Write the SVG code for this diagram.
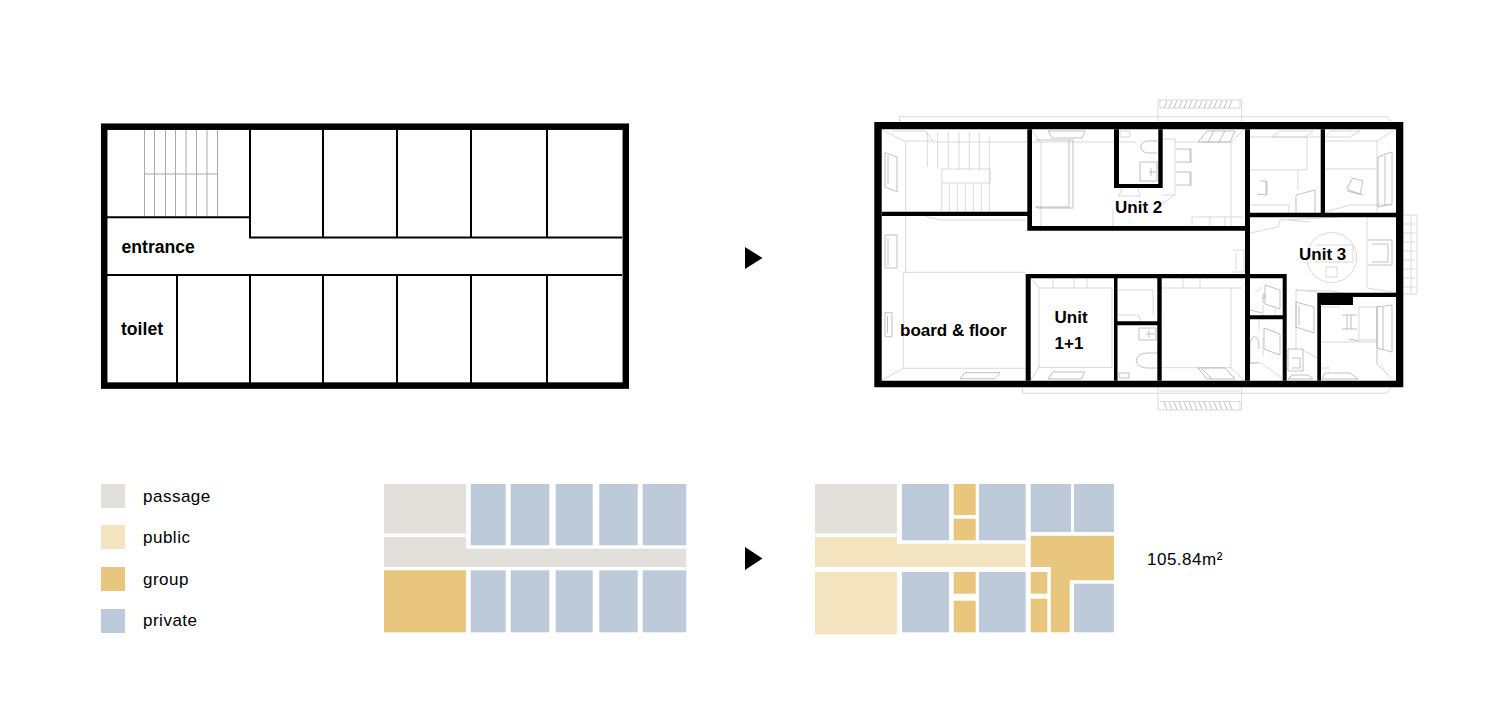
<svg xmlns="http://www.w3.org/2000/svg" width="1500" height="706" viewBox="0 0 1500 706">
<style>
text{font-family:"Liberation Sans",Arial,sans-serif;fill:#000}
.b{font-weight:700;font-size:17px}
.b2{font-weight:700;font-size:17.600px}
.l{font-size:17px;letter-spacing:.5px}
.wall{fill:#000}
.thin{fill:none;stroke:#000;stroke-width:2}
.stair{fill:none;stroke:#aaa;stroke-width:1}
.d{fill:none;stroke:#cfcfcf;stroke-width:.8}
.d2{fill:none;stroke:#a6a6a6;stroke-width:.7}
.pa{fill:#e3e0db}.pu{fill:#f4e4bf}.gr{fill:#e8c67d}.pr{fill:#bdcad9}
</style>
<rect width="1500" height="706" fill="#fff"/>

<g id="plan-before">
<path class="stair" d="M144.500 130V217M154.500 130V217M165.500 130V217M175.500 130V217M186 130V217M196.500 130V217M207 130V217M217.500 130V217M144.500 174H217.500"/>
<path class="thin" d="M107 217.300H250M250 130V237.500H622M107 275H622M323 130V237.500M397 130V237.500M471 130V237.500M547 130V237.500M177 275V383M250 275V383M323 275V383M397 275V383M471 275V383M547 275V383"/>
<rect x="104.200" y="126.700" width="521.600" height="258.900" fill="none" stroke="#000" stroke-width="6.500"/>
<text class="b2" x="121.500" y="252.500">entrance</text>
<text class="b2" x="121" y="335">toilet</text>
</g>

<polygon id="arrow-top" points="745,247 762.500,258 745,269"/>

<g id="plan-after">
<g id="details">
<path class="d" d="M899.500 122V116.700H1385Q1390 116.700 1391 122M1022.700 387V393.300H1383Q1389 393.300 1391 387"/>
<!-- balconies -->
<path class="d" d="M1158 122V100H1241.700V122M1160 100V108H1240V100M1158 387V410H1241.700V387M1160 401.500H1240V410M1160 391H1240"/>
<path class="d2" d="M1167 100.500L1164 108M1172 100.500L1169 108M1177 100.500L1174 108M1182 100.500L1179 108M1187 100.500L1184 108M1192 100.500L1189 108M1197 100.500L1194 108M1202 100.500L1199 108M1207 100.500L1204 108M1212 100.500L1209 108M1217 100.500L1214 108M1222 100.500L1219 108M1227 100.500L1224 108M1232 100.500L1229 108M1164 402L1167 409.500M1169 402L1172 409.500M1174 402L1177 409.500M1179 402L1182 409.500M1184 402L1187 409.500M1189 402L1192 409.500M1194 402L1197 409.500M1199 402L1202 409.500M1204 402L1207 409.500M1209 402L1212 409.500M1214 402L1217 409.500M1219 402L1222 409.500M1224 402L1227 409.500M1229 402L1232 409.500"/>
<path class="d" d="M1403 215H1417V294H1403M1411 215V294M1403 224H1415M1403 233H1415M1403 242H1415M1403 251H1415M1403 260H1415M1403 269H1415M1403 278H1415M1403 287H1415"/>
<!-- stair room -->
<path class="d" d="M881 129L905.700 142V212M892 131H925L933 141H905M933 142H1027M927.300 131.700V167M937.700 131.700V168.500M948.300 131.700V169M959 131.700V169.500M969.300 131.700V170M979.300 131.700V170M989.300 137V212M941.700 169H990V183H941.700ZM941.700 183.300V212M949.300 183.300V212M957.300 183.300V212M965.300 183.300V212M973.300 183.300V212M981.300 183.300V212"/>
<path class="d2" d="M885 152.700L897 157V191.700L885 187ZM888 156V184"/>
<!-- board and floor -->
<path class="d" d="M905.700 216V272.300M904 272.300H1026M903.300 272.300V368.300H1026M881 381L903.300 368.300M925 216L940 220H1026"/>
<path class="d2" d="M885 235H897V268H885ZM888 238V266M885 312.700H892V336.700H885ZM887.500 316V333M965 372.700H1000L995 378.700H960Z"/>
<!-- unit 2 -->
<path class="d" d="M1032 130L1041 143V226M1032 142H1114M1113 210V226M1119 142H1136M1175 142H1231M1231 142V226M1231 142L1245 129M1120 131H1130V137H1120ZM1162 139H1175V195H1162M1192 226V217H1243M1210 217V226M1225 217V226M1118 196H1140L1138 188M1162 204L1175 195M1122 188L1119 196"/>
<path class="d2" d="M1048 131H1085L1082 138H1052ZM1036 140H1069V207H1036M1069 140H1073V208H1037L1036 206M1198 142L1207 131H1235L1230 142ZM1214 131L1208 142M1225 131L1219 142M1176 149H1190V162H1176M1190 149H1191V163M1176 172H1190V185H1176M1190 172H1191V186"/>
<path class="d2" d="M1157 141H1147A10 6.500 0 0 0 1147 153H1157M1140 162H1157V181H1140ZM1149 172H1156M1151 168V176"/>
<!-- rooms top right -->
<path class="d" d="M1250 137H1320M1250 170H1307V137M1298 170V190M1250 205H1289V213M1325 141H1377V212M1377 141L1396 129M1325 169H1377M1325 212L1350 205H1392M1272 137L1280 131H1313L1306 137ZM1325 137L1330 131H1360L1350 137H1325"/>
<path class="d2" d="M1257 194L1266 195V181H1260M1267 181V195M1296 195L1315 190V213M1296 195V213M1347 188L1353 178L1363 181L1360 194L1349 190ZM1347 191L1363 195M1378 157L1392 152V204L1378 207ZM1385 156V205"/>
<!-- unit 3 -->
<circle class="d" cx="1331.700" cy="257.500" r="25"/>
<path class="d" d="M1326 267H1337V277H1326ZM1250 233L1278 227L1280 220L1340 217M1367 217V288L1396 292.700M1288 220L1310 222M1315 245H1353V262H1315M1296 290L1332 291L1353 295"/>
<path class="d2" d="M1368 240H1392V265H1368M1372 244H1388V262H1372"/>
<!-- 1+1 -->
<path class="d" d="M1030.700 279L1039 288V367.500M1039 288H1112V367.500M1053 279V288M1074 279V288M1087 279V288M1039 367L1030.700 380M1039 367.500H1112M1118 290H1153M1153 290V315M1138 315L1141 321M1118 315H1138"/>
<path class="d2" d="M1048 379L1053 372H1085L1081 379ZM1119 373H1129V378H1119ZM1139 328H1156V340H1139ZM1146 334H1155M1149 330V338M1157 353H1147A10 7 0 0 0 1147 368H1157"/>
<!-- right of 1+1 -->
<path class="d" d="M1183 278V288M1200 278V288M1162 288H1243M1231 288V368M1231 368L1245 381M1162 367.700H1231M1233 250H1244V272H1233M1236 253V270"/>
<path class="d2" d="M1198 368H1225L1235 379H1207ZM1202 369L1212 379"/>
<!-- baths right -->
<path class="d2" d="M1265 285L1280 290V309L1265 304ZM1264 328L1280 334V355L1264 349ZM1250 310L1262 313M1259 349A4.500 9.500 0 0 0 1250 344V363H1259M1263 298A2 2 0 1 0 1263 294V303"/>
<path class="d" d="M1250 363H1261L1282 378M1255 293L1262 287M1263 305V320M1275 309V316M1263 338V356M1259 319V330"/>
<!-- corridor -->
<path class="d" d="M1296 290V350M1296 290L1317 292M1303 350L1317 358"/>
<path class="d2" d="M1296 302L1314 307V333L1296 327ZM1299 306V325M1288 349H1303V371H1288ZM1292 358H1300V368H1292M1288 379L1292 375H1308L1313 379Z"/>
<!-- lower right -->
<path class="d" d="M1321 307H1340M1359 307H1377V340H1359ZM1321 342H1377V364L1392 379M1377 305V364M1321 368H1330"/>
<path class="d2" d="M1342 315H1357M1342 329H1357M1347 315V329M1351 315V329M1377 307L1392 305V352L1377 348ZM1383 307V350M1322 379L1325 373H1350L1358 379ZM1349 339L1359 341"/>
</g>
<path id="walls" class="wall" fill-rule="evenodd" d="M874.300 122H1403.300V387.300H874.300ZM881.700 129.300V380.700H1396V129.300Z"/>
<path class="wall" d="M881.700 211.700H1027.300V129.300H1032V226H1250V230.700H1027.300V216H881.700ZM1114 129.300H1119V184H1158.300V129.300H1162.700V188H1114ZM1245 129.300H1250V380.700H1245ZM1320.700 129.300H1325V213H1320.700ZM1250 212.700H1396V217.300H1250ZM1025.700 274H1286.700V380.700H1282.700V278.300H1030.700V380.700H1025.700ZM1114 278H1117.500V380.700H1114ZM1157.300 278H1161.700V380.700H1157.300ZM1117 321.300H1158V325.300H1117ZM1250 315.300H1283V319.300H1250ZM1318 292.700H1396V297H1353V305H1321V380.700H1317.300V292.700Z"/>
<text class="b" x="1115" y="213">Unit 2</text>
<text class="b" x="1299" y="260">Unit 3</text>
<text class="b" x="900" y="336">board &amp; floor</text>
<text class="b" x="1054.500" y="322.500">Unit</text>
<text class="b" x="1054.500" y="349">1+1</text>
</g>

<g id="legend">
<rect class="pa" x="101" y="484" width="24" height="24"/>
<rect class="pu" x="101" y="525" width="24" height="24"/>
<rect class="gr" x="101" y="567" width="24" height="24"/>
<rect class="pr" x="101" y="609" width="24" height="24"/>
<text class="l" x="143" y="502">passage</text>
<text class="l" x="143" y="543">public</text>
<text class="l" x="143" y="585">group</text>
<text class="l" x="143" y="626">private</text>
</g>

<g id="zones-before">
<rect class="pa" x="384" y="484" width="82" height="49.500"/>
<polygon class="pa" points="384,537 466,537 466,548.700 686.300,548.700 686.300,567 384,567"/>
<rect class="gr" x="384" y="570.300" width="82" height="62"/>
<rect class="pr" x="470.700" y="484" width="35" height="61.300"/>
<rect class="pr" x="510.700" y="484" width="38.600" height="61.300"/>
<rect class="pr" x="555.700" y="484" width="37" height="61.300"/>
<rect class="pr" x="599.300" y="484" width="38.400" height="61.300"/>
<rect class="pr" x="642.700" y="484" width="43.600" height="61.300"/>
<rect class="pr" x="470.700" y="570.300" width="35" height="62"/>
<rect class="pr" x="510.700" y="570.300" width="38.600" height="62"/>
<rect class="pr" x="555.700" y="570.300" width="37" height="62"/>
<rect class="pr" x="599.300" y="570.300" width="38.400" height="62"/>
<rect class="pr" x="642.700" y="570.300" width="43.600" height="62"/>
</g>

<polygon id="arrow-bottom" points="745,547 762.500,558.500 745,570"/>

<g id="zones-after">
<rect class="pa" x="815" y="484" width="82" height="49.500"/>
<polygon class="pu" points="815,537 897,537 897,543.700 1025.700,543.700 1025.700,567 815,567"/>
<rect class="pu" x="815" y="572" width="82" height="62.300"/>
<rect class="pr" x="902" y="484" width="47" height="56.300"/>
<rect class="gr" x="953.700" y="484" width="22" height="31"/>
<rect class="gr" x="953.700" y="518.700" width="22" height="21.600"/>
<rect class="pr" x="979" y="484" width="46.700" height="56.300"/>
<rect class="pr" x="1030.700" y="484" width="40.300" height="48"/>
<rect class="pr" x="1074" y="484" width="40" height="48"/>
<polygon class="gr" points="1030.700,535.700 1114,535.700 1114,580.300 1069.700,580.300 1069.700,632.300 1050.700,632.300 1050.700,567 1030.700,567"/>
<rect class="pr" x="902" y="572" width="47" height="60.300"/>
<rect class="gr" x="953.700" y="572" width="22" height="21.700"/>
<rect class="gr" x="953.700" y="600.700" width="22" height="31.600"/>
<rect class="pr" x="979" y="572" width="46.700" height="60.300"/>
<rect class="gr" x="1030.700" y="572" width="16.600" height="21.700"/>
<rect class="gr" x="1030.700" y="598.700" width="16.600" height="33.600"/>
<rect class="pr" x="1074" y="583.700" width="40" height="48.600"/>
<text class="l" x="1147" y="564.500">105.84m²</text>
</g>
</svg>
